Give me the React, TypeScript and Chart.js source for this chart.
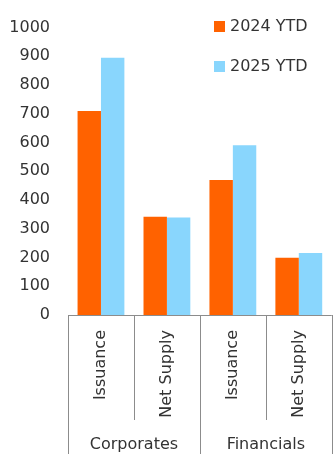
import React, { useEffect, useRef } from "react";
import { Chart, registerables } from "chart.js";

Chart.register(...registerables);

const categories = ["Issuance", "Net Supply", "Issuance", "Net Supply"];
const groups = ["Corporates", "Financials"];
const series2024 = [710, 342, 470, 199];
const series2025 = [895, 339, 591, 216];
const seriesNames = ["2024 YTD", "2025 YTD"];
const colors = ["#FF6200", "#89D6FD"];

const FONT = "'DejaVu Sans', sans-serif";
const TEXT = "#333333";
const LINE = "#8c8c8c";

const overlayPlugin = {
  id: "overlay",
  afterDraw(chart: any) {
    const ctx = chart.ctx;
    const xs = chart.scales.x;
    const area = chart.chartArea;
    const n = categories.length;
    const w = (xs.right - xs.left) / n;
    const H = chart.height;
    ctx.save();
    ctx.strokeStyle = LINE;
    ctx.lineWidth = 1;
    ctx.beginPath();
    ctx.moveTo(xs.left, Math.round(area.bottom) + 0.5);
    ctx.lineTo(xs.right, Math.round(area.bottom) + 0.5);
    ctx.stroke();
    for (let i = 0; i <= n; i++) {
      const x = Math.round(xs.left + i * w) + 0.5;
      const full = i % 2 === 0;
      ctx.beginPath();
      ctx.moveTo(x, area.bottom);
      ctx.lineTo(x, full ? H : area.bottom + 105);
      ctx.stroke();
    }
    ctx.fillStyle = TEXT;
    ctx.font = `16px ${FONT}`;
    ctx.textAlign = "center";
    ctx.textBaseline = "middle";
    groups.forEach((g, gi) => {
      const cx = xs.left + (gi * 2 + 1) * w;
      ctx.fillText(g, cx, area.bottom + 130);
    });
    ctx.textAlign = "left";
    seriesNames.forEach((s, si) => {
      const y = 26 + si * 40;
      ctx.fillStyle = colors[si];
      ctx.fillRect(214, y - 5, 11, 11);
      ctx.fillStyle = TEXT;
      ctx.fillText(s, 230, y + 1);
    });
    ctx.restore();
  },
};

export default function App() {
  const ref = useRef<HTMLCanvasElement | null>(null);
  useEffect(() => {
    document.body.style.margin = "0";
    const chart = new Chart(ref.current as HTMLCanvasElement, {
      type: "bar",
      data: {
        labels: categories,
        datasets: [
          { label: seriesNames[0], data: series2024, backgroundColor: colors[0] },
          { label: seriesNames[1], data: series2025, backgroundColor: colors[1] },
        ],
      },
      options: {
        animation: false,
        responsive: true,
        maintainAspectRatio: false,
        categoryPercentage: 0.71,
        barPercentage: 1,
        layout: { padding: { top: 23, right: 0, left: 0, bottom: 0 } },
        plugins: { legend: { display: false }, tooltip: { enabled: false } },
        scales: {
          x: {
            grid: { display: false, drawTicks: false },
            border: { display: false },
            ticks: {
              minRotation: 90,
              maxRotation: 90,
              autoSkip: false,
              padding: 15,
              color: TEXT,
              font: { family: FONT, size: 16 },
            },
            afterFit(s: any) {
              s.height = 139;
            },
          },
          y: {
            min: 0,
            max: 1000,
            grid: { display: false, drawTicks: false },
            border: { display: false },
            ticks: {
              stepSize: 100,
              padding: 18,
              color: TEXT,
              font: { family: FONT, size: 16 },
              callback: (v: any) => String(v),
            },
            afterFit(s: any) {
              s.width = 68;
            },
          },
        },
      },
      plugins: [overlayPlugin],
    });
    return () => chart.destroy();
  }, []);
  return (
    <div style={{ position: "relative", width: 333, height: 454 }}>
      <canvas ref={ref} />
    </div>
  );
}
